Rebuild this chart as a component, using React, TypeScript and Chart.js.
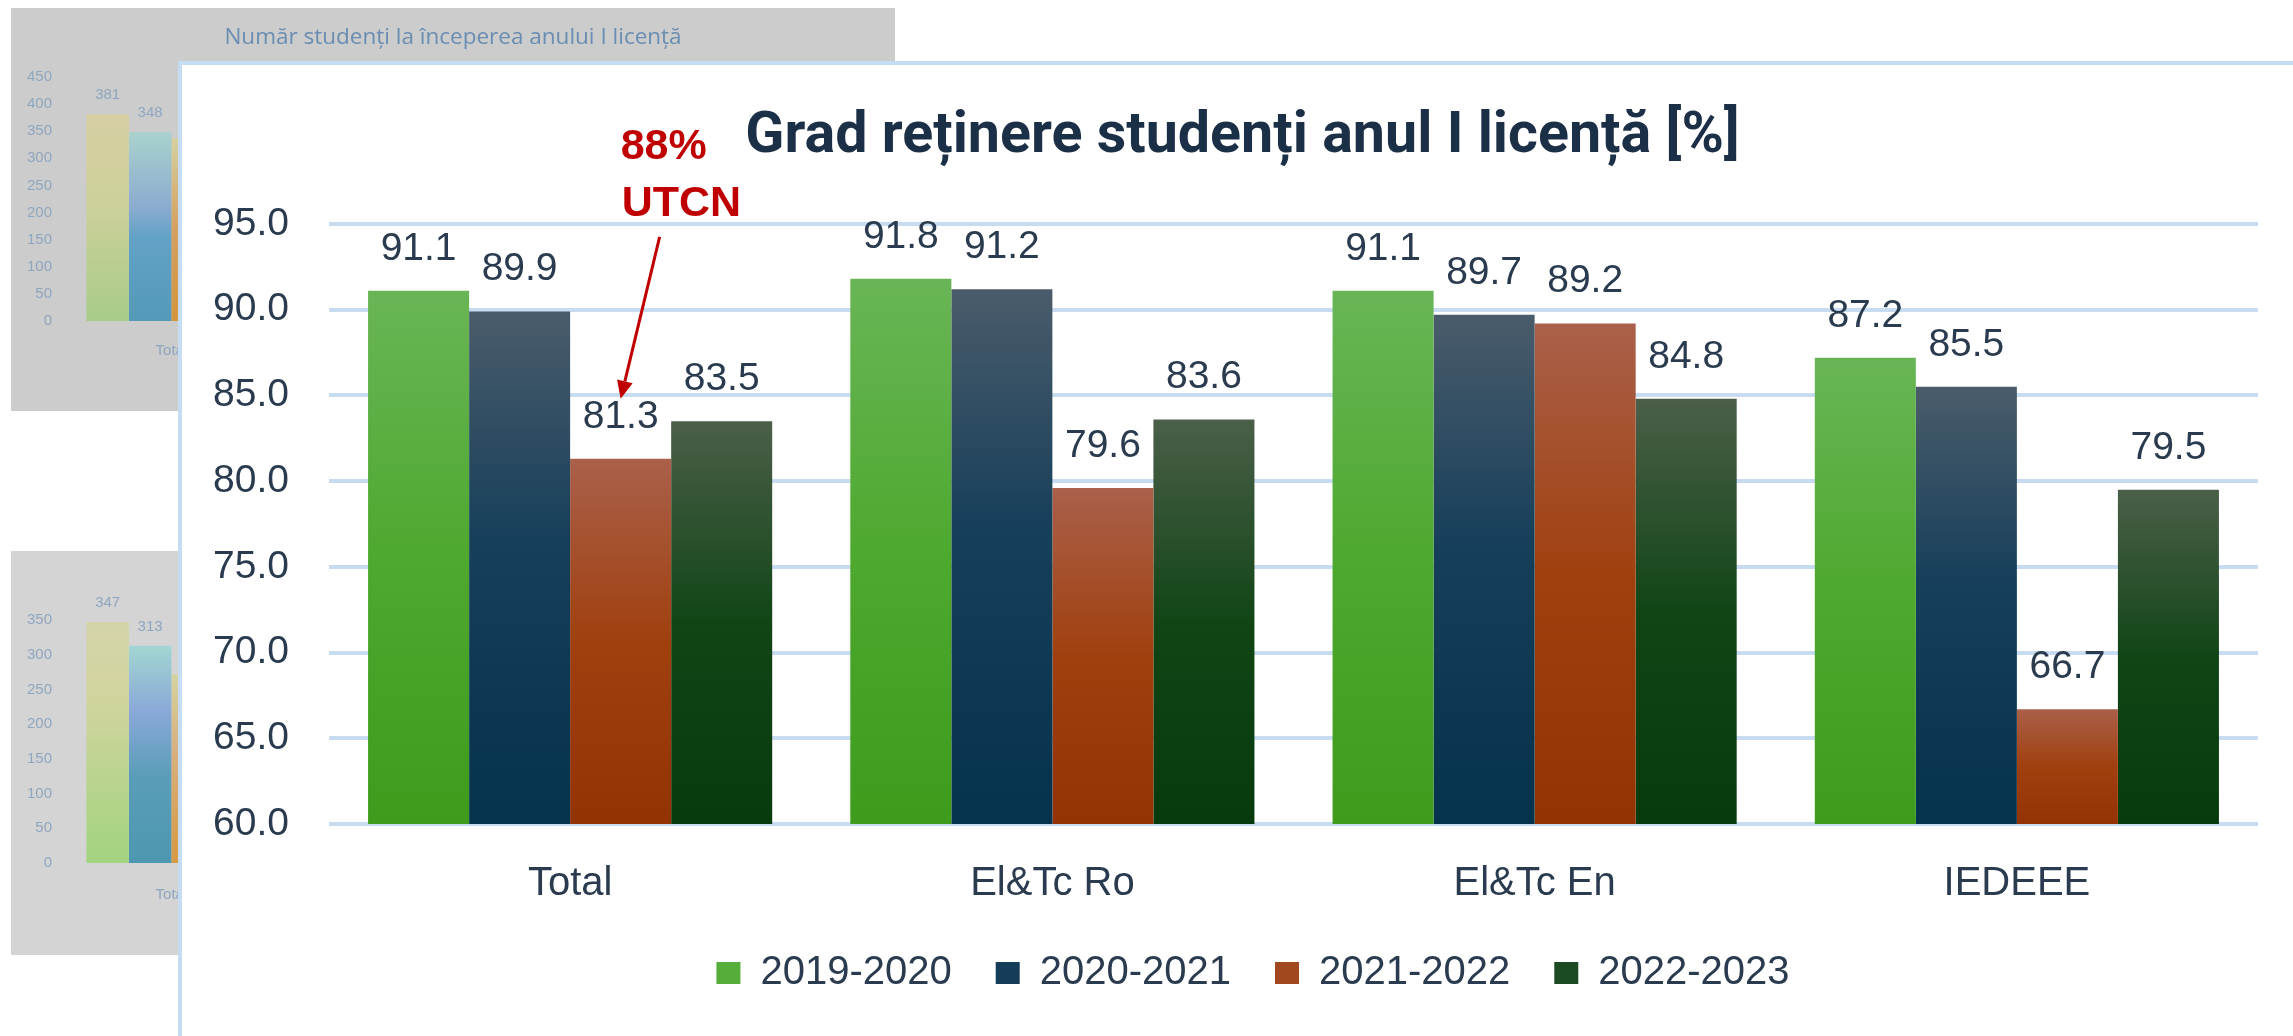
import React, { useEffect, useRef } from "react";
import { Chart, registerables } from "chart.js";

Chart.register(...registerables);

// ---------- data ----------
const categories = ["Total", "El&Tc Ro", "El&Tc En", "IEDEEE"];
const seriesLabels = ["2019-2020", "2020-2021", "2021-2022", "2022-2023"];

const retention2019 = [91.1, 91.8, 91.1, 87.2];
const retention2020 = [89.9, 91.2, 89.7, 85.5];
const retention2021 = [81.3, 79.6, 89.2, 66.7];
const retention2022 = [83.5, 83.6, 84.8, 79.5];

const mainTitle = "Grad reținere studenți anul I licență [%]";
const calloutLines = ["88%", "UTCN"];

// background (partly hidden) charts
const backTitle = "Număr studenți la începerea anului I licență";
const backA2019 = [381, null, null, null];
const backA2020 = [348, null, null, null];
const backA2021 = [337, null, null, null];
const backA2022 = [null, null, null, null];

const backB2019 = [347, null, null, null];
const backB2020 = [313, null, null, null];
const backB2021 = [272, null, null, null];
const backB2022 = [null, null, null, null];

// ---------- styles ----------
const FONT = "'Liberation Sans', Arial, sans-serif";
const TEXT = "#2a3b4f";
const GRID = "#c8dcf1";
const RED = "#c00000";
const BACK_TEXT = "#8fa6bf";

type Stops = [number, string][];

const mainStops: Stops[] = [
  [[0, "#69b556"], [0.5, "#4ea92f"], [1, "#3e9b1c"]],
  [[0, "#4a5c6b"], [0.45, "#163f5a"], [1, "#05324c"]],
  [[0, "#aa604a"], [0.5, "#a0400f"], [1, "#933203"]],
  [[0, "#4b5f49"], [0.5, "#114516"], [1, "#073a0d"]],
];
const legendColors = ["#55ad3a", "#153d58", "#a2481f", "#1c4a22"];

const backAStops: Stops[] = [
  [[0, "#d6cfa2"], [0.45, "#ccd09a"], [1, "#a8cc88"]],
  [[0, "#a9d2cd"], [0.4, "#8bacd0"], [0.55, "#62a2c6"], [1, "#5499b8"]],
  [[0, "#d5d0a0"], [0.5, "#d4a060"], [1, "#d4963c"]],
  [[0, "#c9c9c9"], [1, "#c9c9c9"]],
];
const backBStops: Stops[] = [
  [[0, "#d4d4aa"], [0.3, "#d2d49e"], [1, "#a2d380"]],
  [[0, "#a2d6d2"], [0.3, "#8aa9d8"], [0.6, "#5a9db8"], [1, "#4d97b0"]],
  [[0, "#d4d4a0"], [0.4, "#d8b080"], [1, "#d89a40"]],
  [[0, "#d0d0d0"], [1, "#d0d0d0"]],
];

function barGradient(stops: Stops) {
  const fallback = stops[Math.floor(stops.length / 2)][1];
  return (c: any) => {
    const chart = c.chart;
    if (!chart.chartArea || c.type !== "data") return fallback;
    const v = c.raw;
    if (v == null) return fallback;
    const ys = chart.scales.y;
    const top = ys.getPixelForValue(v);
    const bottom = ys.getPixelForValue(ys.min);
    if (!isFinite(top) || !isFinite(bottom) || bottom - top < 1) return fallback;
    const g = chart.ctx.createLinearGradient(0, top, 0, bottom);
    stops.forEach(([o, col]) => g.addColorStop(o, col));
    return g;
  };
}

// ---------- plugins ----------
const mainDecor = {
  id: "mainDecor",
  afterLayout(chart: any) {
    // centre the legend row a little right of the canvas centre, as in the original
    if (chart.legend) {
      chart.legend.left += 22;
      chart.legend.right += 22;
    }
  },
  afterDatasetsDraw(chart: any) {
    const ctx = chart.ctx;
    ctx.save();
    ctx.font = `39px ${FONT}`;
    ctx.fillStyle = TEXT;
    ctx.textAlign = "center";
    ctx.textBaseline = "alphabetic";
    chart.data.datasets.forEach((ds: any, di: number) => {
      const meta = chart.getDatasetMeta(di);
      meta.data.forEach((bar: any, i: number) => {
        const v = ds.data[i];
        if (v == null) return;
        ctx.fillText(Number(v).toFixed(1), bar.x, bar.y - 31);
      });
    });
    ctx.restore();
  },
  afterDraw(chart: any) {
    const ctx = chart.ctx;
    // title
    ctx.save();
    ctx.font = `bold 56px Roboto, ${FONT}`;
    const w = ctx.measureText(mainTitle).width;
    const size = (56 * 995) / w;
    ctx.font = `bold ${size.toFixed(1)}px Roboto, ${FONT}`;
    ctx.fillStyle = "#1b2f46";
    ctx.textAlign = "center";
    ctx.textBaseline = "alphabetic";
    ctx.fillText(mainTitle, chart.width / 2 + 5, chart.chartArea.top - 72);
    ctx.restore();

    // callout pointing at Total / 2021-2022
    const bar = chart.getDatasetMeta(2).data[0];
    if (!bar) return;
    ctx.save();
    ctx.fillStyle = RED;
    ctx.strokeStyle = RED;
    ctx.font = `bold 43px ${FONT}`;
    ctx.textAlign = "left";
    ctx.textBaseline = "alphabetic";
    ctx.fillText(calloutLines[0], bar.x, bar.y - 300);
    ctx.fillText(calloutLines[1], bar.x + 1, bar.y - 243);

    const tipX = bar.x;
    const tipY = bar.y - 60;
    const sx = bar.x + 39;
    const sy = bar.y - 222;
    const ang = Math.atan2(tipY - sy, tipX - sx);
    const headLen = 18;
    const headW = 8;
    const bx = tipX - headLen * Math.cos(ang);
    const by = tipY - headLen * Math.sin(ang);
    ctx.lineWidth = 3;
    ctx.beginPath();
    ctx.moveTo(sx, sy);
    ctx.lineTo(bx, by);
    ctx.stroke();
    const px = -Math.sin(ang);
    const py = Math.cos(ang);
    ctx.beginPath();
    ctx.moveTo(tipX, tipY);
    ctx.lineTo(bx + px * headW, by + py * headW);
    ctx.lineTo(bx - px * headW, by - py * headW);
    ctx.closePath();
    ctx.fill();
    ctx.restore();
  },
};

const backLabels = {
  id: "backLabels",
  afterDatasetsDraw(chart: any) {
    const ctx = chart.ctx;
    ctx.save();
    ctx.font = `15px ${FONT}`;
    ctx.fillStyle = BACK_TEXT;
    ctx.textAlign = "center";
    ctx.textBaseline = "alphabetic";
    chart.data.datasets.forEach((ds: any, di: number) => {
      const meta = chart.getDatasetMeta(di);
      meta.data.forEach((bar: any, i: number) => {
        const v = ds.data[i];
        if (v == null) return;
        ctx.fillText(String(v), bar.x, bar.y - 15);
      });
    });
    ctx.restore();
  },
};

// ---------- chart builders ----------
function buildMain(canvas: HTMLCanvasElement) {
  const values = [retention2019, retention2020, retention2021, retention2022];
  return new Chart(canvas, {
    type: "bar",
    data: {
      labels: categories,
      datasets: seriesLabels.map((label, i) => ({
        label,
        data: values[i],
        backgroundColor: barGradient(mainStops[i]) as any,
        borderWidth: 0,
        barPercentage: 1,
        categoryPercentage: 0.838,
      })),
    },
    options: {
      responsive: false,
      animation: false,
      devicePixelRatio: 1,
      events: [],
      layout: { padding: { top: 159, left: 22, right: 35, bottom: 33 } },
      scales: {
        x: {
          grid: { display: false },
          border: { display: false },
          ticks: { color: TEXT, font: { family: FONT, size: 40 }, padding: 28 },
          afterFit: (s: any) => {
            s.height = 85;
          },
        },
        y: {
          min: 60,
          max: 95,
          grid: { color: GRID, lineWidth: 4, drawTicks: false },
          border: { display: false },
          ticks: {
            stepSize: 5,
            color: TEXT,
            font: { family: FONT, size: 39 },
            padding: 40,
            callback: (v: any) => Number(v).toFixed(1),
          },
          afterFit: (s: any) => {
            s.width = 125;
          },
        },
      },
      plugins: {
        title: { display: false },
        tooltip: { enabled: false },
        legend: {
          display: true,
          position: "bottom",
          labels: {
            color: TEXT,
            font: { family: FONT, size: 40 },
            boxWidth: 24,
            boxHeight: 22,
            padding: 44,
            generateLabels: (chart: any) =>
              chart.data.datasets.map((ds: any, i: number) => ({
                text: ds.label,
                fillStyle: legendColors[i],
                strokeStyle: legendColors[i],
                lineWidth: 0,
                hidden: false,
                datasetIndex: i,
                fontColor: TEXT,
              })),
          },
        },
      },
    },
    plugins: [mainDecor],
  });
}

function buildBack(
  canvas: HTMLCanvasElement,
  values: (number | null)[][],
  stops: Stops[],
  yMax: number,
  title: string | null,
  xHeight: number,
  xPad: number
) {
  return new Chart(canvas, {
    type: "bar",
    data: {
      labels: categories,
      datasets: seriesLabels.map((label, i) => ({
        label,
        data: values[i],
        backgroundColor: barGradient(stops[i]) as any,
        borderWidth: 0,
        barPercentage: 1,
        categoryPercentage: 0.822,
      })),
    },
    options: {
      responsive: false,
      animation: false,
      devicePixelRatio: 1,
      events: [],
      layout: { padding: { top: title ? 0 : 69, left: 0, right: 0, bottom: 0 } },
      scales: {
        x: {
          grid: { display: false },
          border: { display: false },
          ticks: { color: BACK_TEXT, font: { family: FONT, size: 15 }, padding: xPad },
          afterFit: (s: any) => {
            s.height = xHeight;
          },
        },
        y: {
          min: 0,
          max: yMax,
          grid: { display: false, drawTicks: false },
          border: { display: false },
          ticks: { stepSize: 50, color: BACK_TEXT, font: { family: FONT, size: 15 }, padding: 16 },
          afterFit: (s: any) => {
            s.width = 57;
          },
        },
      },
      plugins: {
        tooltip: { enabled: false },
        legend: { display: false },
        title: {
          display: !!title,
          text: title || "",
          color: "#6a8db2",
          font: { family: "'Open Sans', 'Noto Sans', sans-serif", size: 22.5, weight: "500" },
          padding: { top: 16, bottom: 26 },
        },
      },
    },
    plugins: [backLabels],
  });
}

// ---------- component ----------
export default function App() {
  const backARef = useRef<HTMLCanvasElement>(null);
  const backBRef = useRef<HTMLCanvasElement>(null);
  const mainRef = useRef<HTMLCanvasElement>(null);

  useEffect(() => {
    const charts: Chart[] = [];
    if (backARef.current)
      charts.push(
        buildBack(
          backARef.current,
          [backA2019, backA2020, backA2021, backA2022],
          backAStops,
          450,
          backTitle,
          90,
          13
        )
      );
    if (backBRef.current)
      charts.push(
        buildBack(
          backBRef.current,
          [backB2019, backB2020, backB2021, backB2022],
          backBStops,
          350,
          null,
          92,
          15
        )
      );
    if (mainRef.current) charts.push(buildMain(mainRef.current));
    return () => charts.forEach((c) => c.destroy());
  }, []);

  return (
    <div
      style={{
        position: "fixed",
        left: 0,
        top: 0,
        width: 2293,
        height: 1036,
        overflow: "hidden",
        background: "#ffffff",
      }}
    >
      <div style={{ position: "absolute", left: 11, top: 8, width: 884, height: 403, background: "#cccccc" }}>
        <canvas ref={backARef} width={884} height={403} style={{ display: "block", width: 884, height: 403 }} />
      </div>
      <div style={{ position: "absolute", left: 11, top: 551, width: 884, height: 404, background: "#d4d4d4" }}>
        <canvas ref={backBRef} width={884} height={404} style={{ display: "block", width: 884, height: 404 }} />
      </div>
      <div
        style={{
          position: "absolute",
          left: 178,
          top: 61,
          width: 2293 - 178 + 20,
          height: 1036 - 61 + 20,
          boxSizing: "border-box",
          border: "4px solid #c6dcf2",
          background: "#ffffff",
        }}
      >
        <canvas ref={mainRef} width={2111} height={971} style={{ display: "block", width: 2111, height: 971 }} />
      </div>
    </div>
  );
}
